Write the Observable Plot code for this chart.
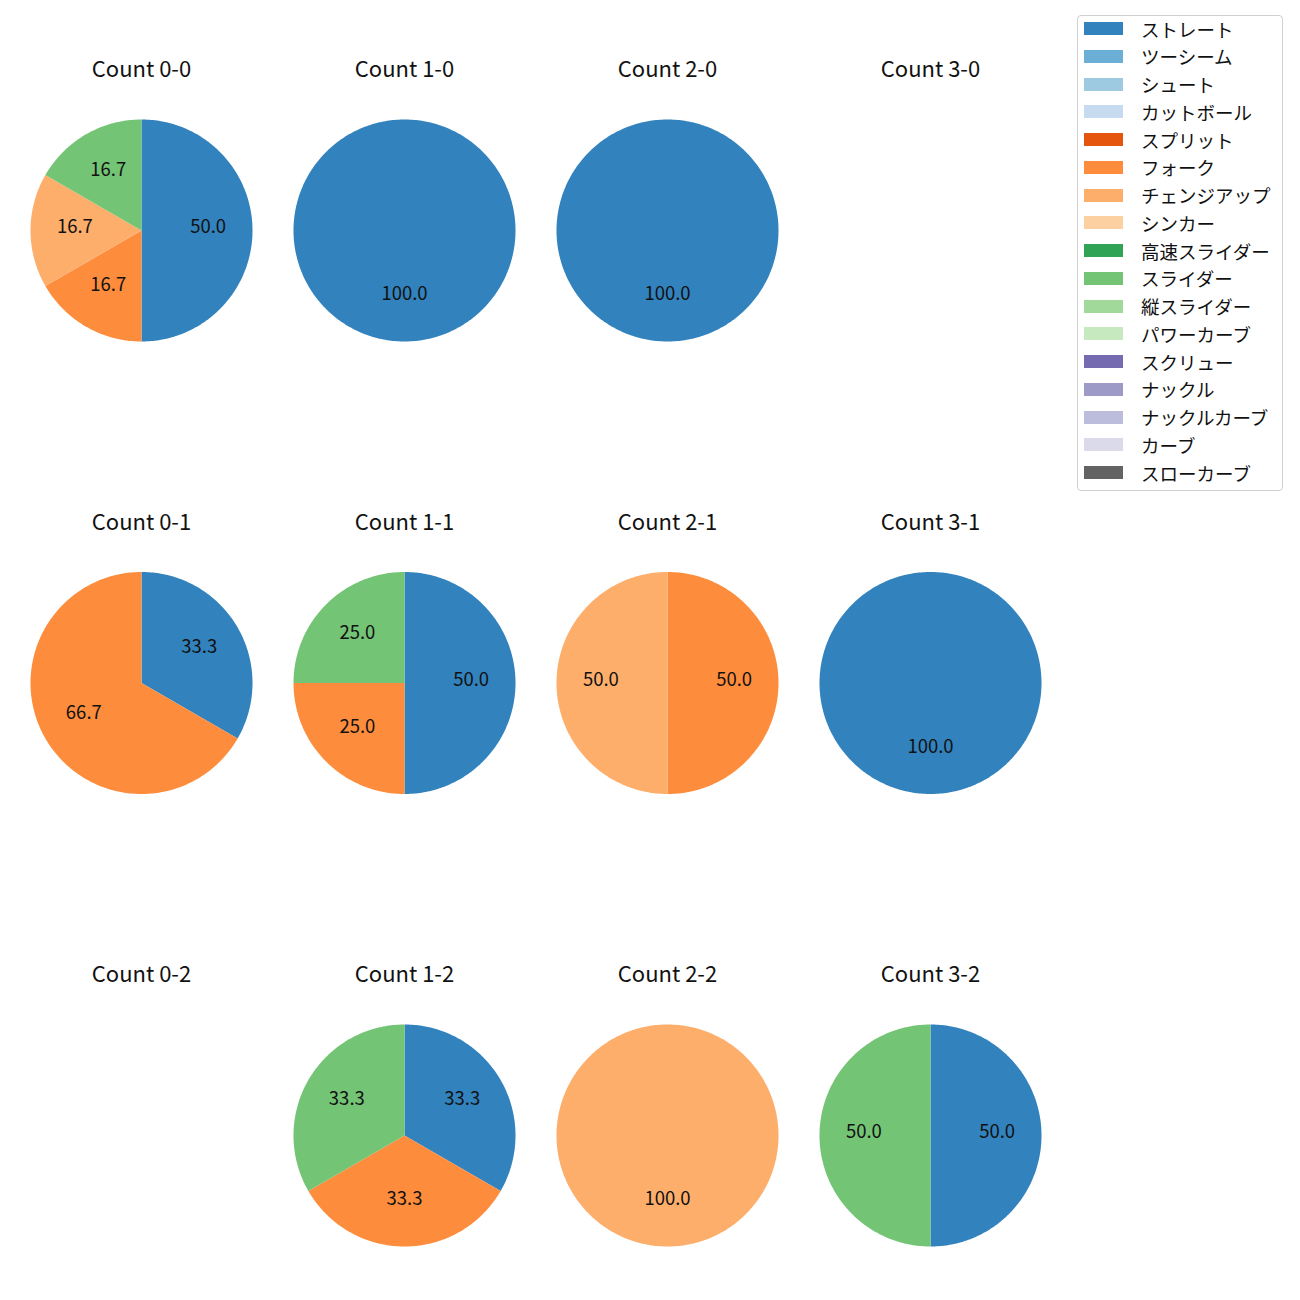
<!DOCTYPE html>
<html>
<head>
<meta charset="utf-8">
<script src="https://cdn.jsdelivr.net/npm/d3@7"></script>
<script src="https://cdn.jsdelivr.net/npm/@observablehq/plot@0.6"></script>
<style>
  html, body { margin: 0; padding: 0; background: #fff; }
  #wrap { position: relative; width: 1300px; height: 1300px; font-family: "Noto Sans CJK JP", "Noto Sans", sans-serif; }
  #legend { position: absolute; left: 1077px; top: 15px; width: 206px; height: 476px; border: 1px solid #d0d0d0; border-radius: 4px; background: #fff; box-sizing: border-box; }
  .row { position: absolute; left: 0; height: 20px; display: flex; align-items: center; font-size: 18.5px; color: #111; white-space: nowrap; }
  .sw { width: 39px; height: 13px; margin-left: 6px; margin-right: 18px; }
</style>
</head>
<body>
<div id="wrap"><div id="chart"></div><div id="legend"></div></div>
<script>
// pitch types (legend order) and their colours
const pitchTypes = ["ストレート","ツーシーム","シュート","カットボール","スプリット","フォーク","チェンジアップ","シンカー","高速スライダー","スライダー","縦スライダー","パワーカーブ","スクリュー","ナックル","ナックルカーブ","カーブ","スローカーブ"];
const pitchColors = ["#3182bd","#6baed6","#9ecae1","#c6dbef","#e6550d","#fd8d3c","#fdae6b","#fdd0a2","#31a354","#74c476","#a1d99b","#c7e9c0","#756bb1","#9e9ac8","#bcbddc","#dadaeb","#636363"];

// counts (balls-strikes)
const balls = [0, 1, 2, 3];
const strikes = [0, 1, 2];

// slices: which count, which pitch, how many
const sliceCount = ["0-0","0-0","0-0","0-0","1-0","2-0","0-1","0-1","1-1","1-1","1-1","2-1","2-1","3-1","1-2","1-2","1-2","2-2","3-2","3-2"];
const sliceType  = ["ストレート","フォーク","チェンジアップ","スライダー","ストレート","ストレート","ストレート","フォーク","ストレート","フォーク","スライダー","フォーク","チェンジアップ","ストレート","ストレート","フォーク","スライダー","チェンジアップ","ストレート","スライダー"];
const sliceValue = [3,1,1,1,1,1,1,2,2,1,1,1,1,1,1,1,1,1,1,1];

// build wedges (start at 12 o'clock, clockwise)
const slices = sliceCount.map((c, i) => ({count: c, type: sliceType[i], value: sliceValue[i]}));
const wedges = [];
const labels = [];
for (const [count, group] of d3.group(slices, d => d.count)) {
  const [b, s] = count.split("-").map(Number);
  const total = d3.sum(group, d => d.value);
  let cum = 0;
  for (const d of group) {
    const a0 = 90 - 360 * cum / total;
    const a1 = 90 - 360 * (cum + d.value) / total;
    cum += d.value;
    const n = Math.max(2, Math.ceil(Math.abs(a1 - a0)));
    const ring = [];
    const full = Math.abs(a1 - a0) >= 359.999;
    if (!full) ring.push([0, 0]);
    for (let k = 0; k <= n; k++) {
      const a = (a0 + (a1 - a0) * k / n) * Math.PI / 180;
      ring.push([Math.cos(a), Math.sin(a)]);
    }
    ring.push(ring[0]);
    wedges.push({type: "Feature", properties: {b, s, type: d.type}, geometry: {type: "Polygon", coordinates: [ring]}});
    const m = ((a0 + a1) / 2) * Math.PI / 180;
    labels.push({b, s, x: 0.6 * Math.cos(m), y: 0.6 * Math.sin(m), text: (100 * d.value / total).toFixed(1)});
  }
}
const titles = [];
for (const s of strikes) for (const b of balls) titles.push({b, s, text: `Count ${b}-${s}`});

const plot = Plot.plot({
  width: 1300,
  height: 1300,
  marginLeft: 30,
  marginRight: 259,
  marginTop: 119,
  marginBottom: 54,
  style: {fontFamily: '"Noto Sans CJK JP", "Noto Sans", sans-serif', background: "#fff"},
  projection: {type: "reflect-y", domain: {type: "Polygon", coordinates: [[[-1,-1],[1,-1],[1,1],[-1,1],[-1,-1]]]}},
  fx: {domain: balls, axis: null, paddingInner: 1 - 222 / 263, paddingOuter: 0, round: false},
  fy: {domain: strikes, axis: null, paddingInner: 1 - 222 / 452.5, paddingOuter: 0, round: false},
  color: {domain: pitchTypes, range: pitchColors},
  marks: [
    Plot.geo(wedges, {fx: d => d.properties.b, fy: d => d.properties.s, fill: d => d.properties.type, stroke: "none"}),
    Plot.text(labels, {fx: "b", fy: "s", x: "x", y: "y", text: "text", fontSize: 18.5, fill: "#111", dy: -3}),
    Plot.text(titles, {fx: "b", fy: "s", text: "text", frameAnchor: "top", dy: -58, fontSize: 22, fill: "#111"})
  ]
});
document.getElementById("chart").appendChild(plot);

// legend built from the plot's colour scale
const colorScale = plot.scale("color");
const legend = document.getElementById("legend");
pitchTypes.forEach((t, i) => {
  const row = document.createElement("div");
  row.className = "row";
  row.style.top = (14 + i * 27.75 - 10 - 1.5) + "px";
  const sw = document.createElement("div");
  sw.className = "sw";
  sw.style.background = colorScale.apply(t);
  const tx = document.createElement("span");
  tx.textContent = t;
  row.appendChild(sw);
  row.appendChild(tx);
  legend.appendChild(row);
});
</script>
</body>
</html>
